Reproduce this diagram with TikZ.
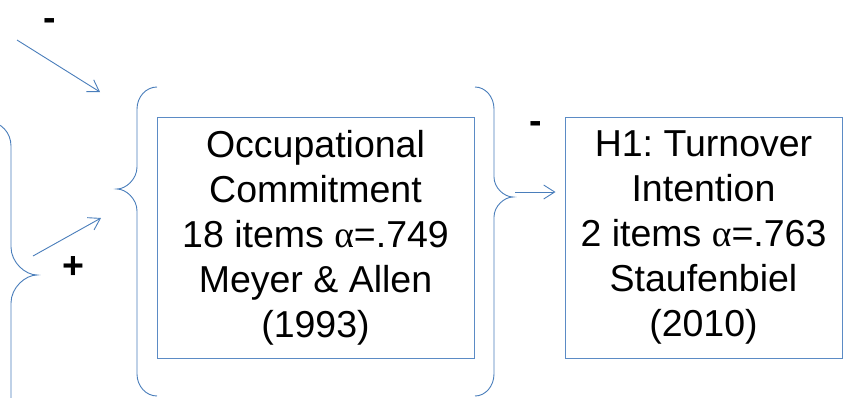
\documentclass[tikz,border=0pt]{standalone}
\usepackage{fontspec}
\setmainfont{Liberation Sans}
\newfontfamily\greekfont{Liberation Serif}
\usetikzlibrary{arrows.meta}
\definecolor{lineblue}{HTML}{4A7EBB}
\definecolor{boxblue}{HTML}{5B8BC5}
\frenchspacing
\newcommand{\bigtext}{\fontsize{37.5}{45}\selectfont}
\newcommand{\alphasym}{{\greekfont α}}
% left-pointing brace: xend, xline, xtip, ytop, ymid, ybot, r (end radius), m (mid radius)
\newcommand{\bracepath}[8]{%
  (#1,#4) .. controls ({#2+0.45*(#1-#2)},#4) and (#2,{#4+0.45*#7}) .. (#2,{#4+#7})
  -- (#2,{#5-#8}) .. controls (#2,{#5-0.45*#8}) and ({#3+0.45*(#2-#3)},#5) .. (#3,#5)
  .. controls ({#3+0.45*(#2-#3)},#5) and (#2,{#5+0.45*#8}) .. (#2,{#5+#8})
  -- (#2,{#6-#7}) .. controls (#2,{#6-0.45*#7}) and ({#2+0.45*(#1-#2)},#6) .. (#1,#6)}
\tikzset{
  bracestyle/.style={draw=lineblue, line width=0.9pt},
  arr/.style={draw=lineblue, line width=0.9pt, -{Straight Barb[length=11pt,width=14pt,line width=0.9pt]}},
  boxnode/.style={draw=boxblue, line width=1pt, inner sep=0pt, align=center, font=\bigtext},
  sign/.style={font=\bigtext\bfseries, inner sep=0pt, anchor=base}
}
\begin{document}
\begin{tikzpicture}[x=1pt,y=-1pt]
\useasboundingbox (0,0) rectangle (843,397);
% boxes
\node[boxnode, minimum width=317pt, minimum height=241pt] (oc) at (315.5,237.5)
  {Occupational\\Commitment\\18 items \alphasym=.749\\Meyer \& Allen\\(1993)};
\node[boxnode, minimum width=277pt, minimum height=241pt] (ti) at (703.5,237.5)
  {H1: Turnover\\Intention\\2 items \alphasym=.763\\Staufenbiel\\(2010)};
% braces
\draw[bracestyle] \bracepath{157}{137}{117}{87}{189}{396}{22}{22};
\draw[bracestyle] \bracepath{475}{494}{513}{87}{197}{396}{22}{20};
\draw[bracestyle] \bracepath{-11}{11}{37}{122}{275}{440}{24}{28};
% arrows
\coordinate (a1s) at (17,40);
\coordinate (a1e) at (100,92);
\draw[arr] (a1s) -- (a1e);
\coordinate (a2s) at (33,256);
\coordinate (a2e) at (101,218);
\draw[arr] (a2s) -- (a2e);
\coordinate (a3s) at (515,192);
\draw[arr, shorten >=9pt] (a3s) -- (a3s -| ti.west);
% signs
\node[sign] (s1) at (50,30) {-};
\node[sign] (s2) at (536,133) {-};
\node[sign] (s3) at (73,278) {+};
\end{tikzpicture}
\end{document}
